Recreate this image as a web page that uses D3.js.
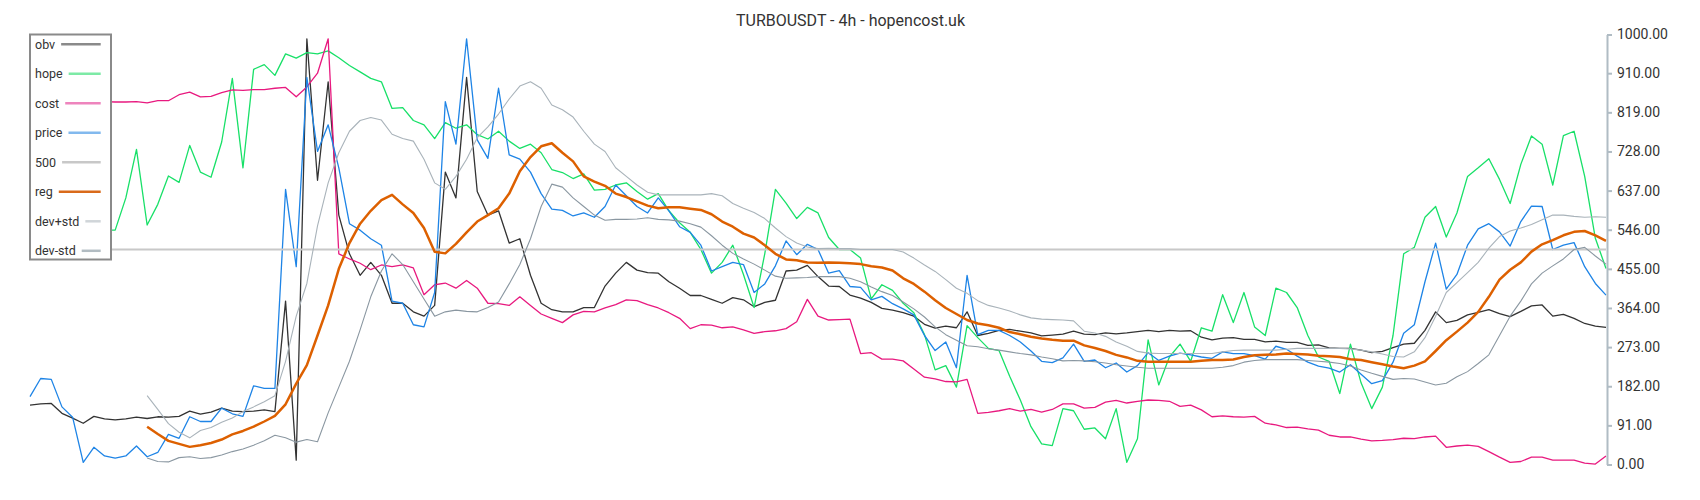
<!DOCTYPE html>
<html><head><meta charset="utf-8">
<script src="https://cdn.jsdelivr.net/npm/d3@7"></script>
<style>body{margin:0;background:#fff;} svg{display:block;font-family:Roboto, sans-serif;}</style>
</head><body><svg id="c" width="1700" height="500"></svg>
<script>
const title = "TURBOUSDT - 4h - hopencost.uk";
const tickValues = [0, 91, 182, 273, 364, 455, 546, 637, 728, 819, 910, 1000];
const tickLabels = ["0.00", "91.00", "182.00", "273.00", "364.00", "455.00", "546.00", "637.00", "728.00", "819.00", "910.00", "1000.00"];
const legendNames = ["obv", "hope", "cost", "price", "500", "reg", "dev+std", "dev-std"];
const level500 = 500;

const obv = [138,141,142,119,108,96,112,106,104,106,110,107,111,110,112,124,117,122,131,124,
123,124,127,123,380,10,990,661,890,580,490,440,470,440,375,375,355,345,370,680,
620,900,635,580,590,515,525,440,375,360,355,355,365,365,415,445,470,452,446,445,
425,410,393,393,384,375,388,383,367,377,382,450,452,463,437,415,414,394,387,377,
363,359,353,345,326,317,322,318,355,300,305,312,314,310,306,299,301,303,310,303,
302,306,304,306,309,312,309,312,310,311,296,290,294,295,291,291,285,287,284,284,
277,278,271,270,270,266,260,263,272,280,282,312,355,330,335,348,354,360,351,344,
356,369,371,345,349,340,328,322,319];

const hope = [910,540,560,540,590,560,530,545,545,620,733,557,605,671,656,742,680,668,750,898,
690,919,930,905,955,945,958,955,962,946,928,913,898,890,828,830,800,790,758,795,
782,790,767,757,775,752,735,745,725,686,679,665,676,638,640,650,655,635,617,630,
590,562,540,500,445,470,510,442,365,490,640,608,572,598,585,528,500,500,480,385,
418,405,375,353,302,220,230,180,323,295,270,265,205,150,88,48,44,130,125,82,
85,60,130,5,60,290,185,250,280,240,318,310,395,330,400,320,300,410,400,365,
300,250,240,165,280,190,130,180,300,490,505,575,600,529,585,670,690,711,663,607,
698,764,745,650,765,775,670,526,456];

const cost = [845,842,843,840,843,845,842,844,843,843,844,841,846,846,860,866,855,856,865,871,
870,872,872,875,877,855,878,910,990,490,478,468,453,464,460,464,457,395,418,422,
410,428,410,375,374,370,390,370,350,340,330,348,356,355,364,372,383,381,372,364,
353,340,316,325,324,318,320,313,305,309,311,316,332,384,345,336,337,338,258,260,
245,245,241,222,203,199,193,192,198,119,121,125,130,124,128,122,128,141,141,131,
133,145,149,143,147,150,149,147,135,138,127,111,113,111,110,112,96,92,86,87,
83,80,68,64,64,59,55,56,58,61,60,64,66,40,43,45,42,30,17,5,
7,17,17,10,10,10,3,1,20];

const price = [158,200,198,134,110,5,40,20,15,20,43,18,28,70,61,111,100,100,131,118,
112,183,177,177,640,460,900,728,790,690,560,545,525,510,380,375,325,320,400,844,
745,990,755,712,875,720,710,680,630,594,591,578,585,575,600,650,625,600,585,620,
590,553,540,510,450,460,470,465,400,420,462,520,488,512,500,445,451,414,412,383,
391,374,362,348,300,265,285,225,440,302,312,312,300,285,264,240,237,248,280,240,
243,225,236,215,230,260,242,252,259,255,250,247,262,258,258,253,245,275,268,252,
238,229,224,215,232,210,188,195,238,305,325,425,515,408,442,510,548,560,541,508,
565,601,600,500,510,516,460,421,394];

const reg = [null,null,null,null,null,null,null,null,null,null,null,88,71,55,48,41,45,50,58,70,
78,88,100,113,140,188,231,300,370,455,515,560,590,615,627,605,585,550,495,491,
513,540,565,580,596,630,682,715,740,747,725,705,670,658,648,630,622,612,602,596,
598,598,595,592,582,565,553,537,528,510,490,477,475,470,469,470,469,468,466,461,
458,451,433,420,402,382,364,350,336,328,324,318,308,303,297,293,290,288,288,277,
271,264,255,249,241,239,239,239,239,239,241,243,243,244,250,254,255,256,258,257,
256,253,252,250,245,243,238,233,228,224,230,240,264,289,309,330,355,390,430,453,
470,495,512,522,533,541,543,533,520];

const devPlus = [null,null,null,null,null,null,null,null,null,null,null,160,128,95,75,62,79,86,98,108,
123,134,146,160,240,345,421,555,655,725,775,800,807,801,768,758,752,710,655,640,
670,710,760,785,815,850,880,890,875,836,825,808,775,745,728,690,670,650,633,627,
627,627,627,627,630,625,607,596,586,572,550,530,515,506,502,503,502,502,500,500,
500,500,494,480,464,449,430,410,398,381,370,364,357,348,341,338,337,336,334,310,
306,298,285,275,263,259,258,258,258,258,258,258,262,265,266,266,266,266,268,270,
270,270,270,270,269,266,262,257,251,250,262,295,345,400,423,446,470,503,530,543,
550,558,569,580,580,577,575,576,575];

const devMinus = [null,null,null,null,null,null,null,null,null,null,null,15,7,6,16,18,14,16,22,30,
36,45,55,68,62,52,58,53,120,180,240,313,390,450,490,465,425,385,345,355,
359,356,355,365,378,420,465,525,600,652,645,620,600,580,568,570,570,571,574,570,
569,566,560,552,532,510,491,478,466,452,438,433,434,435,437,437,437,433,425,413,
402,393,378,362,343,320,302,289,276,274,269,266,262,258,255,250,246,241,242,241,
239,236,232,229,226,224,224,224,224,224,224,224,226,230,238,242,244,244,244,244,
242,240,238,235,229,220,212,205,198,200,199,192,185,189,204,216,235,255,300,345,
380,420,445,462,478,500,505,485,466];

const N = price.length;
const svg = d3.select("#c");
const x = d3.scaleLinear().domain([0, N - 1]).range([30, 1606]);
const y = d3.scaleLinear().domain([0, 1000]).range([464.5, 34.5]);

svg.append("rect").attr("width", 1700).attr("height", 500).attr("fill", "#fff");

svg.append("text").attr("x", 850.5).attr("y", 26).attr("text-anchor", "middle")
  .attr("font-size", 16).attr("fill", "#333").text(title);

const line = d3.line().defined(d => d != null).x((d, i) => x(i)).y(d => y(d));

const series = [
  {name: "obv", data: obv, color: "#333333", w: 1.3},
  {name: "hope", data: hope, color: "#18e068", w: 1.3},
  {name: "cost", data: cost, color: "#e8197f", w: 1.3},
  {name: "price", data: price, color: "#1e84e6", w: 1.3},
  {name: "500", data: null, color: "#c8c8c8", w: 2},
  {name: "reg", data: reg, color: "#dd6000", w: 2.5},
  {name: "dev+std", data: devPlus, color: "#a9b3ba", w: 1.1},
  {name: "dev-std", data: devMinus, color: "#8a97a1", w: 1.1}
];

const plot = svg.append("g");
series.forEach(s => {
  if (s.data) {
    plot.append("path").datum(s.data).attr("d", line)
      .attr("fill", "none").attr("stroke", s.color).attr("stroke-width", s.w)
      .attr("stroke-linejoin", "round");
  } else {
    plot.append("line").attr("x1", x(0)).attr("x2", x(N - 1))
      .attr("y1", y(level500)).attr("y2", y(level500))
      .attr("stroke", s.color).attr("stroke-width", s.w);
  }
});

// right axis
const axisG = svg.append("g").attr("transform", "translate(1607,0)")
  .call(d3.axisRight(y).tickValues(tickValues).tickFormat((d, i) => tickLabels[i])
    .tickSize(5).tickSizeOuter(0).tickPadding(5));
axisG.select(".domain").attr("stroke", "#b0bcc4").attr("stroke-width", 2);
axisG.selectAll(".tick line").attr("stroke", "#b0bcc4").attr("stroke-width", 2);
axisG.selectAll(".tick text").attr("font-size", 14).attr("fill", "#333")
  .attr("font-family", "Roboto, sans-serif");

// legend
const legendColors = ["#8a8a8a", "#7deaa6", "#ee84bd", "#82b9ee", "#c8c8c8", "#d96a1a", "#d0d5d9", "#b2bcc2"];
const lg = svg.append("g");
lg.append("rect").attr("x", 30).attr("y", 34.5).attr("width", 81).attr("height", 225)
  .attr("fill", "#fff").attr("stroke", "#8a8a8a").attr("stroke-width", 2);
legendNames.forEach((n, i) => {
  const yy = 44.3 + i * 29.5;
  const t = lg.append("text").attr("x", 35).attr("y", yy).attr("dy", "0.35em")
    .attr("font-size", 12.5).attr("fill", "#333").text(n);
  const tw = t.node().getComputedTextLength();
  lg.append("line").attr("x1", 35 + tw + 6).attr("x2", 100.7).attr("y1", yy).attr("y2", yy)
    .attr("stroke", legendColors[i]).attr("stroke-width", 2.5);
});
</script></body></html>
